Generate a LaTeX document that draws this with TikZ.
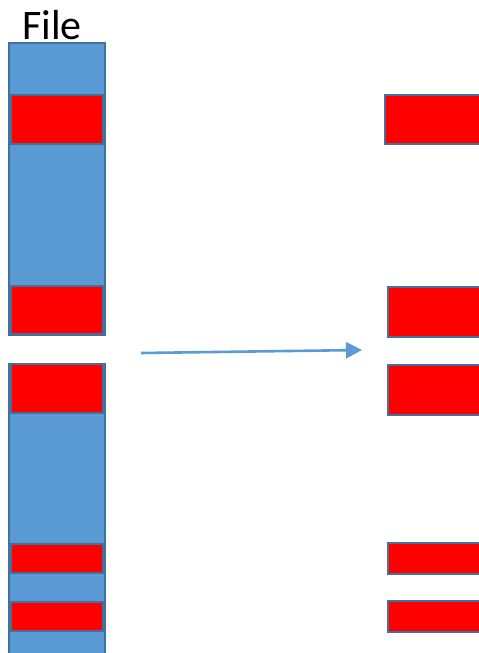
\documentclass[tikz,border=0pt]{standalone}
\usepackage{fontspec}
\setmainfont{Carlito}
\usetikzlibrary{arrows.meta}
\definecolor{fileblue}{HTML}{5B9BD5}
\definecolor{edgeblue}{HTML}{41719C}
\tikzset{
  blk/.style={draw=edgeblue, line width=1.8pt, inner sep=0pt, anchor=north west},
  bluebox/.style={blk, fill=fileblue},
  redbox/.style={blk, fill=red},
  flow/.style={draw=fileblue, line width=2.6pt, -{Triangle[length=16pt,width=16pt]}}
}
\newcommand{\blkat}[6]{% style, name, x1, y1, x2, y2
  \node[#1, minimum width=#5pt-#3pt, minimum height=#6pt-#4pt] (#2) at (#3,#4) {};}
\begin{document}
\begin{tikzpicture}[x=1pt,y=-1pt]
  \useasboundingbox (0,0) rectangle (479,653);
  \clip (0,0) rectangle (479,653);
  % the file as a column of blocks
  \blkat{bluebox}{colA}{8}{42}{104}{334}
  \blkat{bluebox}{colB}{8}{363}{104}{680}
  \blkat{redbox}{l1}{10}{94}{102}{143}
  \blkat{redbox}{l2}{10}{285}{102}{333}
  \blkat{redbox}{l3}{10}{363}{102}{412}
  \blkat{redbox}{l4}{10}{543}{102}{572}
  \blkat{redbox}{l5}{10}{601}{102}{630}
  \node[anchor=base west, inner sep=0pt, font=\fontsize{42}{42}\selectfont] (title) at (22,39) {File};
  % extracted blocks
  \blkat{redbox}{r1}{384}{94}{495}{143}
  \blkat{redbox}{r2}{387}{286}{495}{336}
  \blkat{redbox}{r3}{387}{364}{495}{414}
  \blkat{redbox}{r4}{387}{542}{495}{573}
  \blkat{redbox}{r5}{387}{600}{495}{631}
  % extraction arrow
  \coordinate (from) at (141,353);
  \coordinate (to) at (362,350);
  \draw[flow] (from) -- (to);
\end{tikzpicture}
\end{document}
